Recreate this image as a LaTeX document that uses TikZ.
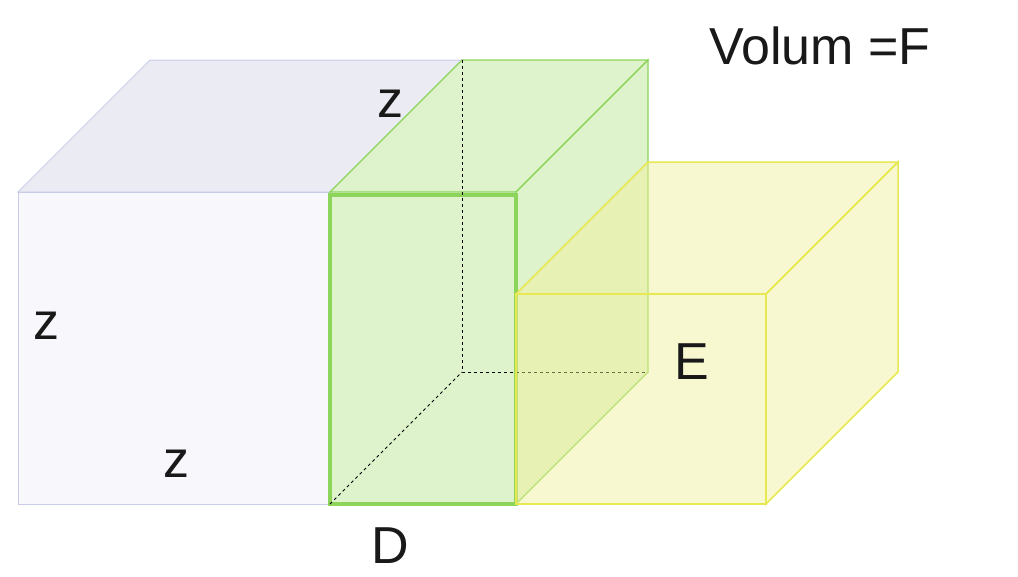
\documentclass[tikz,border=0pt]{standalone}
\usepackage{fontspec}
\setmainfont{Liberation Sans}
\definecolor{grayedge}{RGB}{200,204,232}
\definecolor{grayfront}{RGB}{248,248,252}
\definecolor{graytop}{RGB}{235,236,243}
\definecolor{greenedge}{RGB}{140,212,90}
\definecolor{greenfill}{RGB}{200,235,170}
\definecolor{yellowedge}{RGB}{232,232,80}
\definecolor{yellowfill}{RGB}{240,240,150}
\tikzset{
  label/.style={inner sep=0.75pt,font=\fontsize{52}{60}\selectfont,text=black!90},
  hidden/.style={dashed,line width=0.9pt},
}
\begin{document}
\begin{tikzpicture}[x=1pt,y=1pt,yscale=-1,xscale=1]
\useasboundingbox (0,0) rectangle (1018,576);

% gray box
\draw[grayedge,fill=graytop,line width=1pt] (18,192) -- (150,60) -- (462,60) -- (330,192) -- cycle;
\draw[grayedge,fill=grayfront,line width=1pt] (18,192) rectangle (330,504);

% green box
\draw[greenedge,fill=greenfill,fill opacity=0.6,line width=1.2pt] (330,192) -- (462,60) -- (648,60) -- (516,192) -- cycle;
\draw[greenedge,fill=greenfill,fill opacity=0.6,line width=1.2pt] (516,192) -- (648,60) -- (648,372) -- (516,504) -- cycle;
\draw[greenedge,fill=greenfill,fill opacity=0.6,line width=4pt] (330,195) rectangle (516,504);
\draw[hidden] (462,60) -- (462,372) -- (648,372);
\draw[hidden] (330,504) -- (462,372);

% yellow box
\draw[yellowedge,fill=yellowfill,fill opacity=0.45,line width=1.5pt] (516,294) -- (648,162) -- (898,162) -- (766,294) -- cycle;
\draw[yellowedge,fill=yellowfill,fill opacity=0.45,line width=1.5pt] (766,294) -- (898,162) -- (898,372) -- (766,504) -- cycle;
\draw[yellowedge,fill=yellowfill,fill opacity=0.45,line width=1.5pt] (516,294) rectangle (766,504);

% Text Node
\node[label] (ztop) at (390,104) {z};
\node[label] (zleft) at (47,326) {z};
\node[label] (zbot) at (176,464) {z};
\node[label] (d) at (390,546) {D};
\node[label] (e) at (692,362) {E};
\node[label] (vol) at (820,46) {Volum =F};
\end{tikzpicture}
\end{document}
